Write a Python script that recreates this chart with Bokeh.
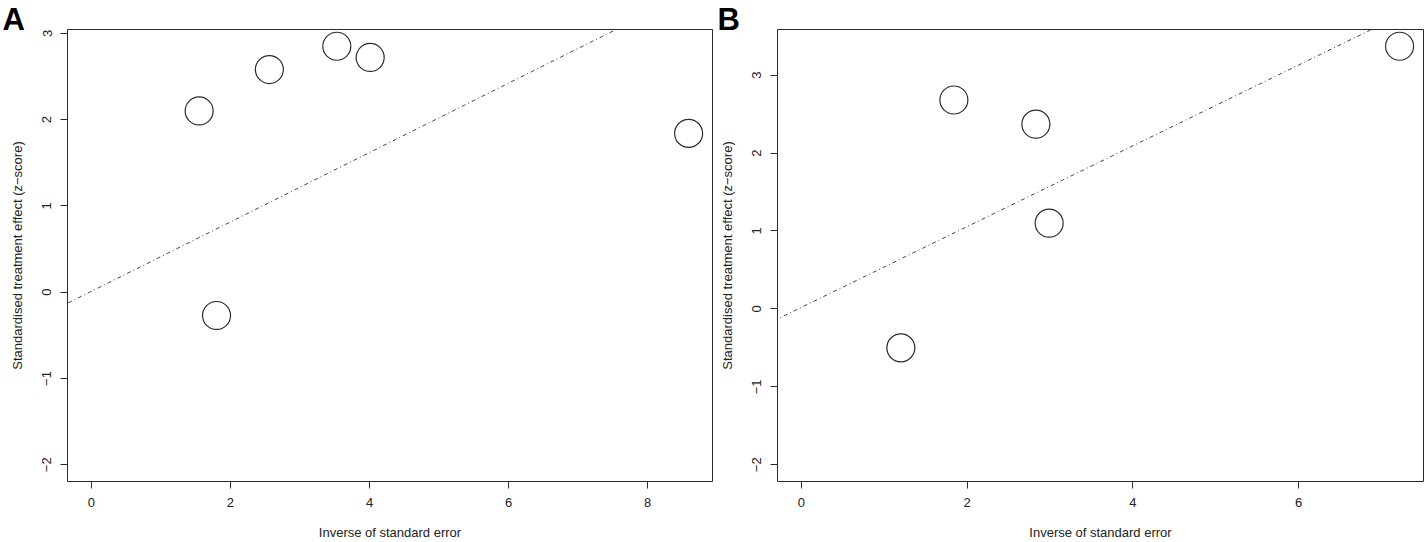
from bokeh.plotting import figure
from bokeh.layouts import row, column
from bokeh.models import Range1d, FixedTicker, Slope
from bokeh.core.properties import value
from bokeh.embed import file_html
from bokeh.resources import INLINE

# ---- data ----
a_precision = [1.55, 2.56, 3.53, 4.01, 8.59, 1.80]
a_zscore = [2.10, 2.58, 2.85, 2.72, 1.84, -0.27]
a_line = [0.01, 0.402]  # intercept, slope

b_precision = [1.84, 2.83, 2.99, 1.20, 7.22]
b_zscore = [2.68, 2.37, 1.10, -0.50, 3.37]
b_line = [0.02, 0.518]

a_xticks = [0, 2, 4, 6, 8]
b_xticks = [0, 2, 4, 6]
yticks = [-2, -1, 0, 1, 2, 3]
y_floor = -2

panel_letters = ["A", "B"]
x_title = "Inverse of standard error"
y_title = "Standardised treatment effect (z\u2212score)"

FONT = "Liberation Sans"
INK = "#2b2b2b"
H = 542
HDR = 36      # header strip holding the panel letter
OVERLAP = 10  # main row is pulled up under the header strip
MAIN_H = H - HDR + OVERLAP


def header(letter, width, left_pad):
    h = figure(width=width, height=HDR, output_backend="svg", toolbar_location=None,
               x_range=Range1d(0, width), y_range=Range1d(HDR, 0), min_border=0)
    h.xaxis.visible = False
    h.yaxis.visible = False
    h.grid.visible = False
    h.outline_line_color = None
    h.background_fill_color = "white"
    h.border_fill_color = "white"
    h.text(x=[left_pad], y=[1], text=[letter], text_font=value(FONT),
           text_font_style="bold", text_font_size="31px", text_color="black",
           text_baseline="top", text_align="left")
    return h


def make_panel(xs, ys, line, xticks, width, borders):
    xmax = max(xs)
    ymax = max(ys)
    ry = ymax - y_floor
    p = figure(width=width, height=MAIN_H, output_backend="svg", toolbar_location=None,
               x_range=Range1d(-0.04 * xmax, 1.04 * xmax),
               y_range=Range1d(y_floor - 0.04 * ry, ymax + 0.04 * ry),
               min_border_left=borders[0], min_border_right=borders[1],
               min_border_top=borders[2], min_border_bottom=borders[3])
    p.grid.visible = False
    p.outline_line_color = INK
    p.outline_line_width = 1
    p.background_fill_color = "white"
    p.border_fill_alpha = 0

    for ax in (p.xaxis[0], p.yaxis[0]):
        ax.axis_line_color = None
        ax.major_tick_out = 7
        ax.major_tick_in = 0
        ax.minor_tick_line_color = None
        ax.major_tick_line_color = INK
        ax.major_label_text_font = FONT
        ax.major_label_text_font_size = "13px"
        ax.major_label_text_color = "#222222"
        ax.axis_label_text_font = FONT
        ax.axis_label_text_font_size = "13px"
        ax.axis_label_text_font_style = "normal"
        ax.axis_label_text_color = "#222222"

    p.xaxis.ticker = FixedTicker(ticks=xticks)
    p.yaxis.ticker = FixedTicker(ticks=yticks)
    p.yaxis.major_label_overrides = {t: str(t).replace("-", "\u2212") for t in yticks}
    p.yaxis.major_label_orientation = "vertical"
    p.xaxis.major_label_standoff = 9
    p.yaxis.major_label_standoff = 9
    p.xaxis.axis_label = x_title
    p.yaxis.axis_label = y_title
    p.xaxis.axis_label_standoff = 15
    p.yaxis.axis_label_standoff = 15

    p.add_layout(Slope(gradient=line[1], y_intercept=line[0], line_color="#444444",
                       line_width=1, line_dash="1 3 4 3"))

    p.scatter(xs, ys, marker="circle", size=28, fill_color=None,
              line_color=INK, line_width=1.2)
    return p


ha = header(panel_letters[0], 716, 2)
hb = header(panel_letters[1], 709, 1)
pa = make_panel(a_precision, a_zscore, a_line, a_xticks, 716, (67, 4, 2, 61))
pb = make_panel(b_precision, b_zscore, b_line, b_xticks, 709, (61, 2, 3, 60))

main_row = row(pa, pb, spacing=0, margin=(-OVERLAP, 0, 0, 0))
layout = column(row(ha, hb, spacing=0), main_row, spacing=0)
open("out.html", "w").write(file_html(layout, INLINE))
